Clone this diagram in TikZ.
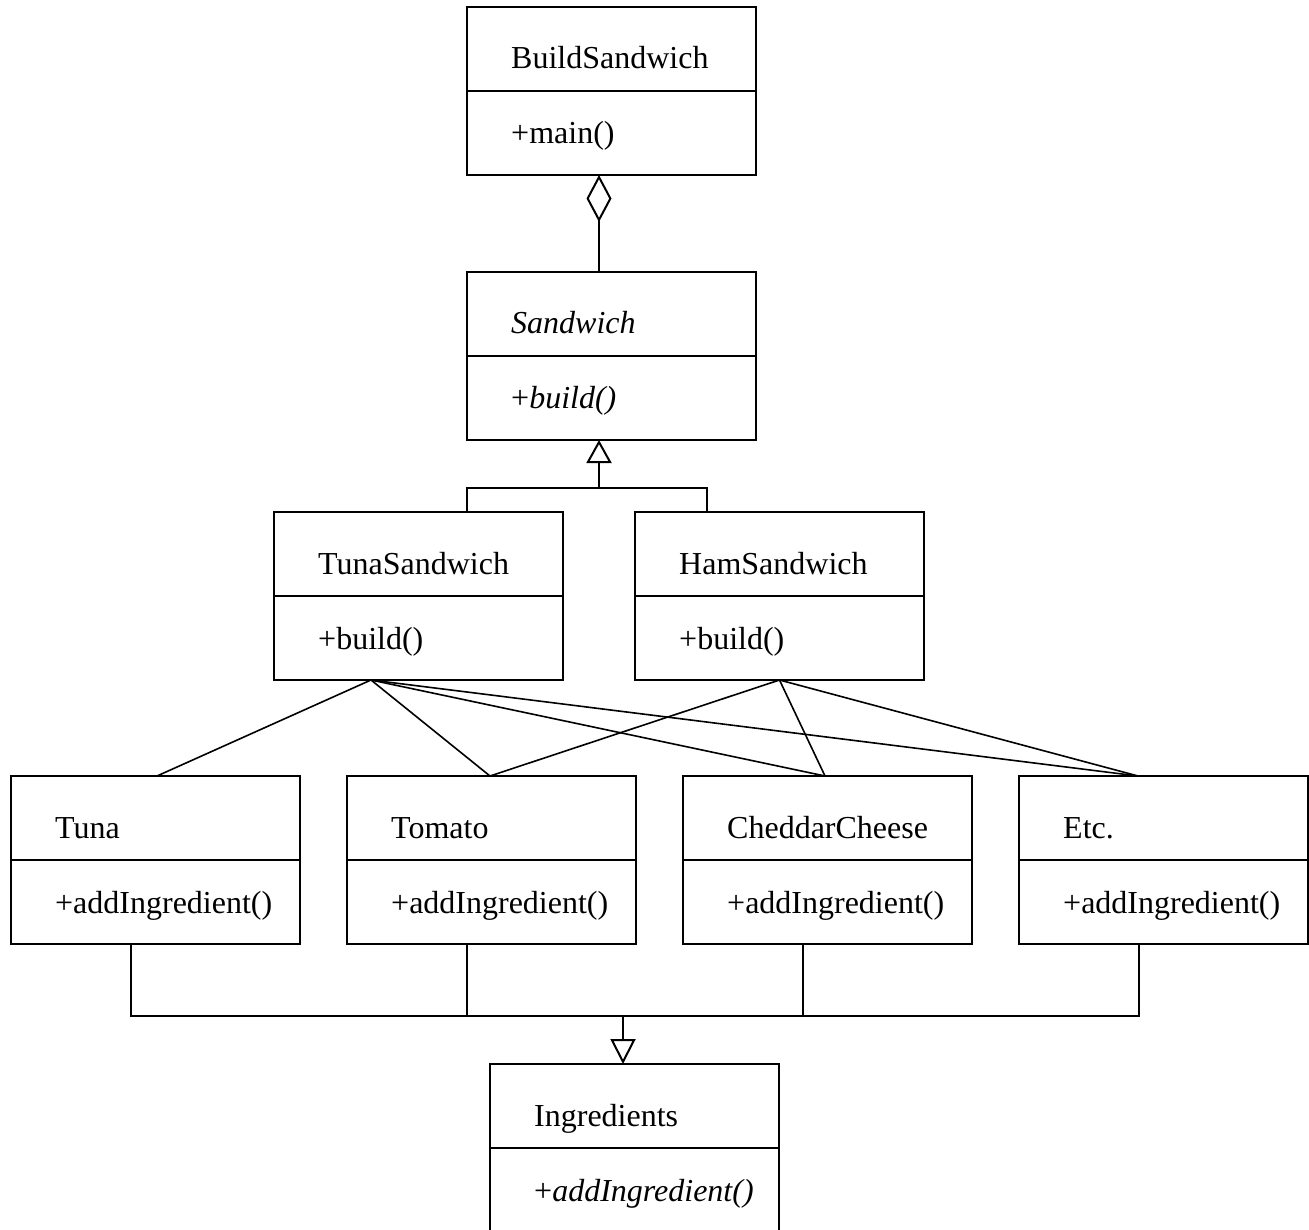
\documentclass[tikz,border=0pt]{standalone}
\usepackage{fontspec}
\setmainfont{Liberation Serif}
\usetikzlibrary{arrows.meta}
\tikzset{
  compart/.style={draw, line width=2pt, minimum width=289pt, minimum height=84pt, inner sep=0pt, outer sep=0pt, anchor=north west},
  lbl/.style={anchor=base west, inner sep=0pt, font=\fontsize{32}{38}\selectfont},
  assoc/.style={line width=1.6pt},
  gen/.style={line width=2pt},
}
\newcommand\umlbox[5]{%
  \node[compart] (#1) at (#2,#3) {};
  \node[compart] (#1m) at (#1.south west) {};
  \node[lbl] (#1t) at ([shift={(44,62)}]#1.north west) {#4};
  \node[lbl] (#1o) at ([shift={(44,53)}]#1m.north west) {#5};
}
\begin{document}
\begin{tikzpicture}[x=1pt,y=-1pt]
\fill[white] (0,0) rectangle (1309,1230);
\useasboundingbox (0,0) rectangle (1309,1230);

\umlbox{build}{467}{7}{BuildSandwich}{+main()}
\umlbox{sand}{467}{272}{\textit{Sandwich}}{+\textit{build()}}
\umlbox{tunasw}{274}{512}{TunaSandwich}{+build()}
\umlbox{hamsw}{635}{512}{HamSandwich}{+build()}
\umlbox{tuna}{11}{776}{Tuna}{+addIngredient()}
\umlbox{tomato}{347}{776}{Tomato}{+addIngredient()}
\umlbox{cheddar}{683}{776}{CheddarCheese}{+addIngredient()}
\umlbox{etc}{1019}{776}{Etc.}{+addIngredient()}
\umlbox{ingr}{490}{1064}{Ingredients}{+\textit{addIngredient()}}

% aggregation
\draw[gen, -{Diamond[open,length=47pt,width=25pt]}] ([xshift=-12.5pt]sand.north) -- ([xshift=-12.5pt]buildm.south);

% generalization Sandwich
\coordinate (gj) at (599,488);
\draw[gen] ([xshift=48.5pt]tunasw.north) |- (gj) -| ([xshift=-72.5pt]hamsw.north);
\draw[gen, -{Triangle[open,length=23pt,width=25pt]}] (gj) -- (gj |- sandm.south);

% associations
\draw[assoc] ([xshift=-47.5pt]tunaswm.south) -- ([xshift=1.5pt]tuna.north);
\draw[assoc] ([xshift=-47.5pt]tunaswm.south) -- ([xshift=-1.5pt]tomato.north);
\draw[assoc] ([xshift=-47.5pt]tunaswm.south) -- ([xshift=-2.5pt]cheddar.north);
\draw[assoc] ([xshift=-47.5pt]tunaswm.south) -- ([xshift=-25.5pt]etc.north);
\draw[assoc] (hamswm.south) -- ([xshift=-1.5pt]tomato.north);
\draw[assoc] (hamswm.south) -- ([xshift=-2.5pt]cheddar.north);
\draw[assoc] (hamswm.south) -- ([xshift=-25.5pt]etc.north);

% generalization Ingredients
\coordinate (bus) at (623,1016);
\draw[gen] ([xshift=-24.5pt]tunam.south) |- (bus) -| ([xshift=-24.5pt]etcm.south);
\draw[gen] ([xshift=-24.5pt]tomatom.south) -- ([xshift=-24.5pt]tomatom.south |- bus);
\draw[gen] ([xshift=-24.5pt]cheddarm.south) -- ([xshift=-24.5pt]cheddarm.south |- bus);
\draw[gen, -{Triangle[open,length=25pt,width=25pt]}] (bus) -- (bus |- ingr.north);
\end{tikzpicture}
\end{document}
